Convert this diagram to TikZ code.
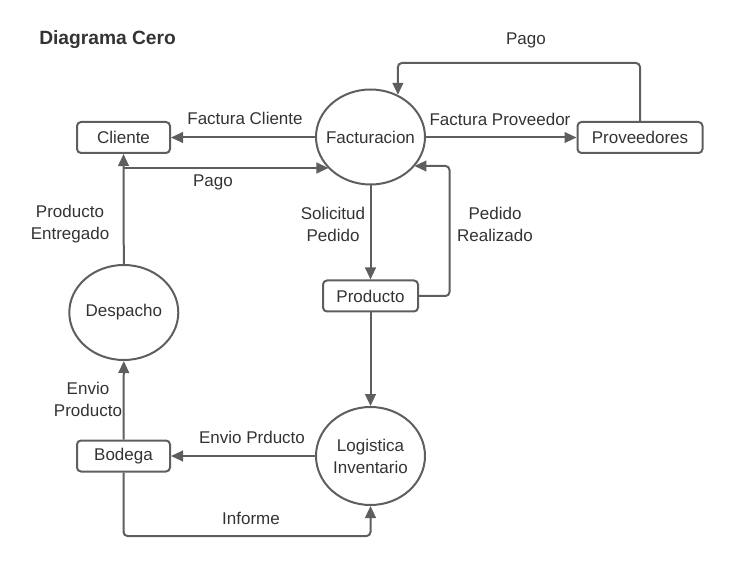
\documentclass[tikz,border=0pt]{standalone}
\usepackage{fontspec}
\setmainfont{Liberation Sans}
\usetikzlibrary{arrows.meta,calc,shapes.geometric}
\definecolor{ln}{HTML}{5E5E5E}
\definecolor{tx}{HTML}{333333}
\begin{document}
\begin{tikzpicture}[x=0.75pt,y=-0.75pt,
  every node/.style={text=tx,font=\fontsize{12.75pt}{16.5pt}\selectfont},
  box/.style={draw=ln,line width=1.5pt,rounded corners=3pt,minimum height=23.25pt,inner sep=0pt},
  proc/.style={draw=ln,line width=1.5pt,ellipse,inner sep=0pt,minimum width=81.75pt,minimum height=71.25pt},
  flow/.style={draw=ln,line width=1.5pt,rounded corners=3pt,-{Triangle[length=9pt,width=8pt]}},
  lbl/.style={align=center,inner sep=0pt}]
\useasboundingbox (0,0) rectangle (735,566);
\node[anchor=west,inner sep=0pt,font=\bfseries\fontsize{14.4pt}{16pt}\selectfont] (title) at (39,40) {Diagrama Cero};
% nodes
\node[box,minimum width=69.75pt] (cli) at (123.5,137.5) {Cliente};
\node[proc,label={[lbl]center:Facturacion}] (fac) at (370.5,137) {};
\node[box,minimum width=93.75pt] (prov) at (640,137.5) {Proveedores};
\node[box,minimum width=71.25pt] (prod) at (370.5,296) {Producto};
\node[proc,minimum height=73.5pt,label={[lbl]center:Logistica\\Inventario}] (log) at (370.5,456) {};
\node[box,minimum width=69.75pt] (bod) at (123.5,456) {Bodega};
\node[proc,label={[lbl]center:Despacho}] (des) at (123.8,312.5) {};
% coordinates
\coordinate (pagoA) at (123.5,168);
\coordinate (topR) at (640.5,63);
\coordinate (prR) at (449.5,166);
\coordinate (infB) at (370.5,536);
% connectors
\draw[flow] (fac.west |- cli.east) -- (cli.east);
\draw[flow] (pagoA) -- (pagoA -| fac.217);
\draw[flow] (fac.east |- prov.west) -- (prov.west);
\draw[flow] (prov.north) |- (topR -| fac.57) -- (fac.57);
\draw[flow] (fac.south) -- (prod.north);
\draw[flow] (prod.east) -| (prR) -- (prR -| fac.-34);
\draw[flow] (prod.south) -- (log.north);
\draw[flow] (log.west) -- (bod.east);
\draw[flow] (bod.south) |- (infB) -- (log.south);
\draw[flow] (bod.north) -- (des.south);
\draw[flow] (des.north) -- (cli.south);
% labels
\node[lbl] (l1) at (245,118) {Factura Cliente};
\node[lbl] (l2) at (213,182) {Pago};
\node[lbl] (l3) at (500,119) {Factura Proveedor};
\node[lbl] (l4) at (526,40) {Pago};
\node[lbl] (l5) at (333,224) {Solicitud\\Pedido};
\node[lbl] (l6) at (495,224) {Pedido\\Realizado};
\node[lbl] (l7) at (252,437) {Envio Prducto};
\node[lbl] (l8) at (251,518) {Informe};
\node[lbl] (l9) at (88,399) {Envio\\Producto};
\node[lbl] (l10) at (70,224) {Producto\\Entregado};
\end{tikzpicture}
\end{document}
